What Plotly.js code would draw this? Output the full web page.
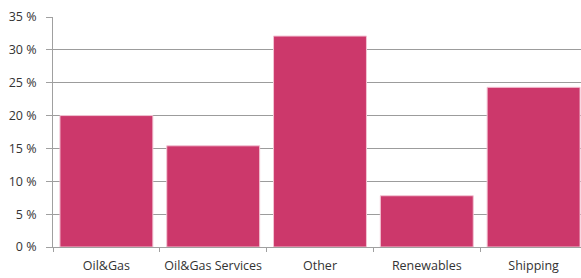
<!DOCTYPE html>
<html><head><meta charset="utf-8">
<script src="https://cdn.plot.ly/plotly-3.0.1.min.js"></script>
<style>html,body{margin:0;padding:0;overflow:hidden;background:#fff}#chart{width:587px;height:278px}</style>
</head><body><div id="chart"></div>
<script>
var categories = ["Oil&Gas", "Oil&Gas Services", "Other", "Renewables", "Shipping"];
var values = [20.0, 15.4, 32.1, 7.8, 24.3];
var yTicks = [0, 5, 10, 15, 20, 25, 30, 35];

Plotly.newPlot("chart", [{
  type: "bar",
  x: categories,
  y: values,
  marker: {color: "#cc386b", line: {color: "#f3c4d4", width: 1}},
  hoverinfo: "none"
}], {
  width: 587, height: 278,
  margin: {l: 53, r: 0, t: 17, b: 31, pad: 0},
  paper_bgcolor: "#fff", plot_bgcolor: "#fff",
  bargap: 0.13,
  font: {family: "Open Sans, Liberation Sans, sans-serif", size: 12.5, color: "#333"},
  showlegend: false,
  xaxis: {
    type: "category",
    tickson: "boundaries",
    ticks: "outside", ticklen: 4, tickcolor: "#a0a0a0",
    ticklabelstandoff: 7,
    showline: true, linecolor: "#a0a0a0", linewidth: 1,
    showgrid: false,
    tickfont: {size: 12.5, color: "#333"}
  },
  yaxis: {
    range: [0, 35],
    tickvals: yTicks,
    ticktext: yTicks.map(function(v){return v + " %";}),
    ticks: "outside", ticklen: 6, tickcolor: "#a0a0a0",
    ticklabelstandoff: 7,
    showline: true, linecolor: "#a0a0a0", linewidth: 1,
    showgrid: true, gridcolor: "#9c9c9c", gridwidth: 1,
    zeroline: false,
    tickfont: {size: 12.5, color: "#333"}
  }
}, {staticPlot: true, displayModeBar: false});
</script></body></html>
